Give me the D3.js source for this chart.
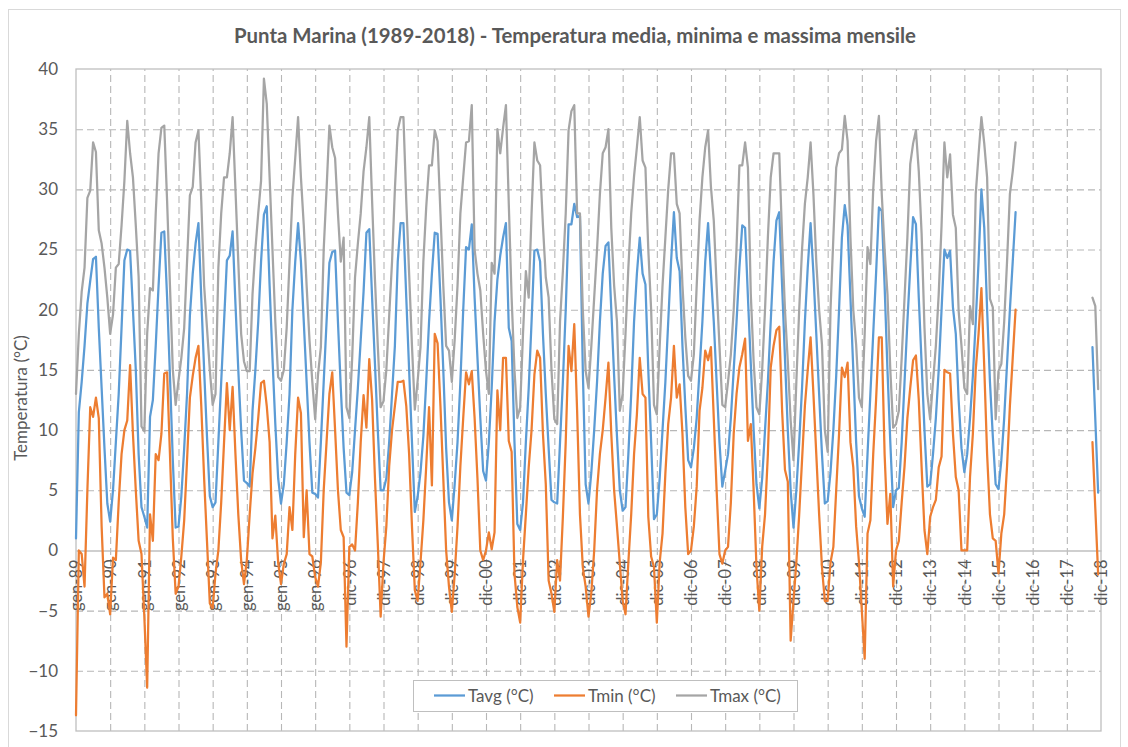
<!DOCTYPE html>
<html>
<head>
<meta charset="utf-8">
<script src="https://cdn.jsdelivr.net/npm/d3@7"></script>
<style>
  body { margin: 0; background: #fff; }
  text { font-family: Lato, "Open Sans", "Liberation Sans", sans-serif; }
</style>
</head>
<body>
<svg id="chart" width="1128" height="747"></svg>
<script>
// Category axis labels, one every 12 monthly slots (361 slots in total)
const tickLabels = [
  "gen-89","gen-90","gen-91","gen-92","gen-93","gen-94","gen-95","gen-96",
  "dic-96","dic-97","dic-98","dic-99","dic-00","dic-01","dic-02","dic-03",
  "dic-04","dic-05","dic-06","dic-07","dic-08","dic-09","dic-10","dic-11",
  "dic-12","dic-13","dic-14","dic-15","dic-16","dic-17","dic-18"
];

const N = null;

// Monthly mean temperature (°C), 12 slots per row
const tavg = [
  1.0, 11.5, 14.0, 17.0, 20.5, 22.4, 24.2, 24.4, 18.5, 13.5, 8.5, 3.9,
  2.4, 5.0, 9.0, 13.0, 18.5, 24.1, 25.0, 24.9, 20.0, 15.0, 8.0, 3.6,
  2.8, 1.9, 11.1, 12.5, 17.0, 22.0, 26.4, 26.5, 21.0, 14.5, 7.5, 1.9,
  2.0, 4.5, 8.5, 13.0, 19.5, 23.0, 25.5, 27.2, 21.0, 15.0, 9.5, 4.5,
  3.6, 4.0, 9.0, 14.0, 19.0, 24.1, 24.5, 26.5, 20.5, 15.0, 10.0, 5.8,
  5.6, 5.3, 11.6, 15.0, 19.0, 24.0, 27.9, 28.6, 22.0, 16.0, 10.5, 6.0,
  3.9, 5.5, 9.0, 13.0, 20.0, 24.0, 27.2, 24.0, 19.0, 14.0, 9.0, 4.8,
  4.7, 4.4, 9.0, 14.0, 19.0, 23.9, 24.8, 24.9, 19.0, 13.5, 8.5, 4.8,
  4.6, 6.5, 10.0, 13.5, 17.5, 21.5, 26.4, 26.7, 21.0, 15.5, 10.0, 5.0,
  5.0, 6.0, 9.0, 13.0, 17.0, 24.0, 27.2, 27.2, 21.0, 15.0, 9.0, 3.2,
  4.5, 6.5, 9.5, 14.0, 19.0, 23.0, 26.4, 26.3, 21.0, 15.0, 8.5, 4.0,
  2.5, 5.5, 9.0, 14.0, 20.0, 25.2, 25.0, 27.1, 21.0, 16.0, 11.0, 6.6,
  5.8, 9.0, 13.5, 19.0, 22.5, 24.5, 26.0, 27.2, 18.5, 17.4, 9.0, 2.2,
  1.7, 4.0, 9.0, 13.5, 19.0, 24.9, 25.0, 24.0, 18.0, 13.0, 8.5, 4.2,
  4.0, 3.9, 9.0, 14.0, 20.0, 27.1, 27.1, 28.8, 27.7, 27.8, 15.0, 5.5,
  3.9, 6.5, 10.0, 14.0, 19.0, 23.0, 25.3, 25.6, 20.0, 14.5, 9.5, 5.0,
  3.3, 3.6, 8.0, 13.0, 19.0, 23.0, 26.0, 23.0, 22.1, 15.0, 9.0, 2.6,
  3.0, 6.0, 10.0, 14.0, 19.0, 24.0, 28.1, 24.3, 23.2, 17.0, 12.0, 7.5,
  6.9, 8.5, 11.0, 15.0, 19.0, 24.0, 27.2, 23.0, 19.0, 14.0, 9.0, 5.3,
  6.6, 8.0, 11.0, 15.0, 19.0, 23.5, 27.0, 26.8, 21.0, 15.5, 10.0, 5.5,
  3.5, 6.0, 10.0, 14.0, 19.0, 24.0, 27.4, 28.1, 22.0, 16.0, 10.0, 5.0,
  1.9, 5.0, 9.0, 13.5, 19.0, 23.5, 27.2, 23.0, 18.0, 13.0, 8.0, 3.9,
  4.1, 6.5, 10.0, 14.5, 20.0, 26.0, 28.7, 27.0, 21.0, 15.0, 9.0, 4.5,
  3.5, 2.8, 8.0, 13.0, 18.0, 23.0, 28.5, 28.2, 22.0, 15.0, 9.0, 3.6,
  5.0, 5.2, 9.0, 14.0, 19.0, 23.5, 27.7, 27.1, 21.0, 15.5, 10.0, 5.3,
  5.5, 8.0, 11.0, 15.0, 20.0, 25.0, 24.3, 24.9, 20.2, 18.0, 12.5, 8.5,
  6.5, 8.0, 11.0, 14.5, 19.0, 24.0, 30.0, 26.8, 20.0, 14.0, 9.5, 5.5,
  5.1, 7.5, 11.0, 15.5, 20.0, 24.0, 28.1, N, N, N, N, N,
  N, N, N, N, N, N, N, N, N, N, N, N,
  N, N, N, N, N, N, N, N, N, 16.9, 10.9, 4.8,
  N
];

// Monthly minimum temperature (°C)
const tmin = [
  -13.7, 0.0, -0.3, -3.0, 5.0, 11.9, 11.1, 12.7, 11.0, 2.0, -3.9, -3.6,
  -5.3, -0.6, -0.8, 4.0, 8.0, 10.0, 10.8, 15.4, 9.7, 5.0, 0.8, -0.3,
  -5.5, -11.4, 3.0, 0.8, 8.0, 7.5, 9.7, 14.7, 14.8, 8.0, 1.0, -3.6,
  -3.0, -0.5, 2.5, 7.5, 12.7, 14.5, 16.0, 17.0, 12.0, 6.0, 0.8, -4.4,
  -4.8, -1.9, 0.0, 4.0, 9.0, 13.9, 10.0, 13.6, 8.0, 3.0, -0.8, -2.8,
  -0.8, 3.0, 6.4, 8.5, 11.0, 13.9, 14.1, 12.0, 9.0, 1.0, 2.9, -1.0,
  -2.8, -1.1, -0.3, 3.6, 1.7, 8.0, 12.7, 11.4, 1.1, 5.0, -0.3, -0.5,
  -2.2, -3.0, -1.0, 5.0, 9.0, 13.0, 14.8, 10.0, 5.0, 1.7, 1.1, -8.0,
  0.3, 0.5, 0.0, 4.0, 9.0, 12.9, 10.2, 15.9, 12.5, 6.0, 0.5, -5.5,
  -1.0, 2.0, 7.0, 10.0, 12.0, 14.0, 14.0, 14.1, 12.0, 8.0, 2.0, -3.3,
  -4.2, -1.0, 2.5, 7.0, 11.9, 5.4, 18.0, 17.2, 12.0, 6.0, 0.0, -3.0,
  -5.1, -2.0, 2.0, 7.0, 11.0, 14.8, 13.8, 14.9, 11.0, 6.0, 0.0, -0.8,
  0.0, 1.5, 0.1, 1.5, 13.3, 10.0, 16.0, 16.0, 9.1, 8.2, -1.9, -4.7,
  -6.0, -0.8, 3.0, 6.9, 10.0, 14.6, 16.6, 16.0, 9.7, 5.5, -2.5, -3.6,
  -5.1, -0.8, -2.5, 2.8, 9.0, 17.0, 14.9, 18.8, 11.6, 3.0, -1.4, -3.0,
  -5.5, -3.5, 0.0, 5.0, 8.0, 10.0, 12.7, 15.6, 9.7, 5.0, 2.0, -1.1,
  -4.2, -5.3, -1.0, 3.0, 8.0, 11.3, 16.0, 13.0, 12.7, 2.8, -0.5, -1.4,
  -6.0, -1.0, 1.4, 6.4, 10.5, 12.7, 17.0, 12.7, 13.8, 9.7, 3.6, -0.3,
  0.0, 2.0, 5.3, 11.6, 13.5, 16.6, 15.8, 16.9, 11.0, 5.0, -0.3, -1.1,
  0.0, 0.3, 4.0, 9.7, 13.0, 15.2, 16.3, 17.6, 9.1, 10.5, 5.0, -1.4,
  -5.0, 0.3, 3.0, 8.0, 15.2, 17.0, 18.3, 18.6, 11.6, 6.7, 5.7, -7.5,
  -4.2, -1.0, 3.0, 7.5, 12.0, 15.0, 17.7, 13.0, 8.0, 3.0, -1.4, -4.2,
  -4.2, -1.0, 0.3, 5.0, 9.7, 15.2, 14.4, 15.6, 9.0, 6.9, 2.0, -1.0,
  -5.0, -9.0, 1.4, 2.5, 8.0, 12.5, 17.7, 17.7, 8.0, 2.2, 4.7, -3.0,
  0.0, 0.8, 4.0, 7.0, 11.0, 13.5, 15.8, 16.2, 12.5, 6.9, 1.7, -0.3,
  2.8, 3.6, 4.2, 6.9, 7.8, 15.0, 14.8, 14.7, 9.7, 6.1, 5.0, 0.0,
  0.0, 0.0, 6.1, 9.7, 15.0, 18.0, 21.8, 15.2, 8.0, 3.0, 1.0, 0.8,
  -1.9, 1.4, 3.0, 7.0, 12.0, 16.0, 20.0, N, N, N, N, N,
  N, N, N, N, N, N, N, N, N, N, N, N,
  N, N, N, N, N, N, N, N, N, 9.0, 3.5, -2.0,
  N
];

// Monthly maximum temperature (°C)
const tmax = [
  13.0, 18.0, 21.5, 23.5, 29.3, 29.9, 33.9, 33.1, 26.6, 25.5, 23.5, 21.0,
  18.0, 19.6, 23.5, 23.8, 27.0, 30.7, 35.7, 33.0, 31.0, 27.0, 22.7, 10.3,
  9.9, 18.0, 21.8, 21.6, 28.0, 33.0, 35.1, 35.3, 29.0, 22.0, 15.0, 12.1,
  14.1, 16.0, 18.5, 24.0, 29.5, 30.2, 33.9, 34.9, 29.0, 22.0, 18.5, 15.0,
  12.1, 13.0, 23.5, 28.0, 31.0, 31.0, 33.0, 36.0, 30.0, 24.0, 18.0, 15.7,
  14.9, 14.9, 21.3, 25.0, 28.0, 30.7, 39.2, 37.1, 31.0, 25.0, 19.0, 14.4,
  14.1, 15.0, 18.5, 24.0, 29.3, 32.6, 36.0, 31.0, 27.0, 22.0, 17.5, 14.0,
  10.9, 14.6, 16.9, 25.0, 30.0, 35.3, 33.5, 32.6, 28.0, 24.0, 26.0, 11.9,
  11.0, 16.0, 22.7, 25.5, 28.0, 31.5, 33.5, 36.0, 29.0, 22.5, 17.0, 11.9,
  12.4, 15.0, 19.5, 24.0, 30.0, 34.9, 36.0, 36.0, 29.0, 23.0, 17.0, 11.7,
  14.1, 16.9, 24.0, 28.5, 32.0, 32.0, 34.9, 34.0, 28.0, 22.0, 17.0, 16.6,
  14.0, 17.5, 22.0, 28.0, 31.0, 33.9, 34.0, 37.0, 25.0, 23.0, 21.6, 18.0,
  14.9, 13.0, 23.9, 23.0, 35.0, 33.0, 35.1, 37.0, 28.8, 21.0, 15.0, 11.0,
  11.9, 18.0, 23.2, 21.0, 28.0, 33.9, 32.4, 32.0, 27.0, 22.7, 21.0, 15.0,
  10.9, 10.5, 19.0, 23.2, 28.0, 34.9, 36.5, 37.0, 28.0, 28.0, 20.0, 14.9,
  13.5, 17.0, 21.0, 25.0, 29.6, 33.0, 33.5, 35.0, 26.8, 22.0, 19.0, 11.6,
  13.0, 18.0, 23.5, 28.0, 31.1, 33.5, 36.0, 32.4, 31.8, 25.0, 20.0, 12.1,
  11.3, 17.0, 22.0, 26.0, 30.0, 33.0, 33.0, 28.8, 28.0, 22.0, 17.7, 14.5,
  14.1, 16.3, 22.0, 27.4, 31.0, 33.5, 34.9, 30.2, 27.4, 22.0, 17.0, 12.1,
  11.9, 14.0, 16.3, 20.0, 25.2, 32.0, 32.0, 33.9, 31.8, 21.3, 15.7, 11.9,
  11.3, 15.0, 20.0, 26.0, 31.0, 33.0, 33.0, 33.0, 26.0, 20.0, 15.7, 10.8,
  7.5, 14.0, 20.0, 25.0, 28.8, 31.0, 33.9, 29.6, 24.0, 20.0, 17.1, 10.0,
  8.2, 20.0, 26.0, 31.8, 33.0, 33.3, 36.1, 34.0, 26.0, 20.0, 17.1, 12.7,
  11.9, 18.0, 25.2, 23.8, 30.0, 34.0, 36.1, 29.6, 25.0, 21.3, 15.0, 10.2,
  10.5, 11.6, 16.0, 21.0, 26.0, 32.1, 33.8, 34.9, 31.5, 26.3, 18.5, 13.0,
  10.9, 14.0, 17.0, 21.3, 27.0, 33.9, 31.0, 32.9, 27.9, 26.8, 19.9, 17.0,
  13.5, 13.0, 20.3, 18.8, 29.6, 32.9, 36.0, 33.8, 31.0, 20.9, 20.2, 10.9,
  14.9, 15.5, 19.0, 24.0, 29.6, 31.5, 33.9, N, N, N, N, N,
  N, N, N, N, N, N, N, N, N, N, N, N,
  N, N, N, N, N, N, N, N, N, 21.0, 20.3, 13.4,
  N
];

const seriesNames = ["Tavg (°C)", "Tmin (°C)", "Tmax (°C)"];
const seriesColors = ["#5B9BD5", "#ED7D31", "#A5A5A5"];

const svg = d3.select("#chart");
const plot = { left: 76, right: 1101, top: 69, bottom: 731 };
const textColor = "#595959";
const gridColor = "#b7b7b7";

// Outer chart frame
svg.append("rect")
  .attr("x", 8.5).attr("y", 9.5).attr("width", 1112).attr("height", 746)
  .attr("fill", "#fff").attr("stroke", "#d9d9d9").attr("stroke-width", 1);

const x = d3.scaleLinear().domain([0, 360]).range([plot.left, plot.right]);
const y = d3.scaleLinear().domain([-15, 40]).range([plot.bottom, plot.top]);

// Horizontal gridlines (dashed)
svg.append("g")
  .attr("transform", `translate(${plot.left},0)`)
  .call(d3.axisLeft(y).tickValues(d3.range(-10, 40, 5).filter(v => v !== 0))
    .tickSize(-(plot.right - plot.left)).tickFormat(""))
  .call(g => g.select(".domain").remove())
  .call(g => g.selectAll("line").attr("stroke", gridColor)
    .attr("stroke-width", 1.1).attr("stroke-dasharray", "7,4"));

// Vertical gridlines every 12 slots (dashed)
svg.append("g")
  .attr("transform", `translate(0,${plot.bottom})`)
  .call(d3.axisBottom(x).tickValues(d3.range(12, 360, 12))
    .tickSize(-(plot.bottom - plot.top)).tickFormat(""))
  .call(g => g.select(".domain").remove())
  .call(g => g.selectAll("line").attr("stroke", gridColor)
    .attr("stroke-width", 1.1).attr("stroke-dasharray", "7,4"));

// Plot area border
svg.append("rect")
  .attr("x", plot.left).attr("y", plot.top)
  .attr("width", plot.right - plot.left).attr("height", plot.bottom - plot.top)
  .attr("fill", "none").attr("stroke", "#bfbfbf").attr("stroke-width", 1.3);

// Y axis labels
svg.append("g")
  .attr("transform", `translate(${plot.left},0)`)
  .call(d3.axisLeft(y).tickValues(d3.range(-15, 41, 5)).tickSize(0).tickPadding(18))
  .call(g => g.select(".domain").remove())
  .call(g => g.selectAll("text").attr("fill", textColor)
    .style("font-size", "17px"));

// Category axis crossing at 0 with rotated labels
const xAxis = svg.append("g")
  .attr("transform", `translate(0,${y(0)})`)
  .call(d3.axisBottom(x).tickValues(d3.range(0, 361, 12)).tickSize(0)
    .tickFormat((d, i) => tickLabels[i]));
xAxis.select(".domain").attr("stroke", "#bfbfbf").attr("stroke-width", 1.5);
xAxis.selectAll("text")
  .attr("fill", textColor)
  .style("font-size", "16.5px")
  .attr("text-anchor", "end")
  .attr("transform", "translate(0,9) rotate(-90)")
  .attr("x", 0).attr("y", 0).attr("dy", "0.35em");

// Series lines
const line = d3.line()
  .defined(d => d !== null)
  .x((d, i) => x(i))
  .y(d => y(d));

[tavg, tmin, tmax].forEach((data, k) => {
  svg.append("path")
    .datum(data)
    .attr("fill", "none")
    .attr("stroke", seriesColors[k])
    .attr("stroke-width", 2.25)
    .attr("stroke-linejoin", "round")
    .attr("stroke-linecap", "round")
    .attr("d", line);
});

// Title
svg.append("text")
  .attr("x", 575).attr("y", 43)
  .attr("text-anchor", "middle")
  .attr("fill", textColor)
  .attr("textLength", 682)
  .attr("lengthAdjust", "spacingAndGlyphs")
  .style("font-size", "20px").style("font-weight", "bold")
  .text("Punta Marina (1989-2018) - Temperatura media, minima e massima mensile");

// Y axis title
svg.append("text")
  .attr("transform", "translate(27,398) rotate(-90)")
  .attr("text-anchor", "middle")
  .attr("fill", textColor)
  .style("font-size", "17px")
  .text("Temperatura (°C)");

// Legend
const legend = svg.append("g");
legend.append("rect")
  .attr("x", 413.5).attr("y", 680.5).attr("width", 384).attr("height", 31)
  .attr("fill", "#fff").attr("stroke", "#bfbfbf").attr("stroke-width", 1);
const legendX = [434, 554, 676];
seriesNames.forEach((name, k) => {
  legend.append("line")
    .attr("x1", legendX[k]).attr("x2", legendX[k] + 31)
    .attr("y1", 695.5).attr("y2", 695.5)
    .attr("stroke", seriesColors[k]).attr("stroke-width", 2.25);
  legend.append("text")
    .attr("x", legendX[k] + 34).attr("y", 701.5)
    .attr("fill", textColor)
    .style("font-size", "17px")
    .text(name);
});
</script>
</body>
</html>
